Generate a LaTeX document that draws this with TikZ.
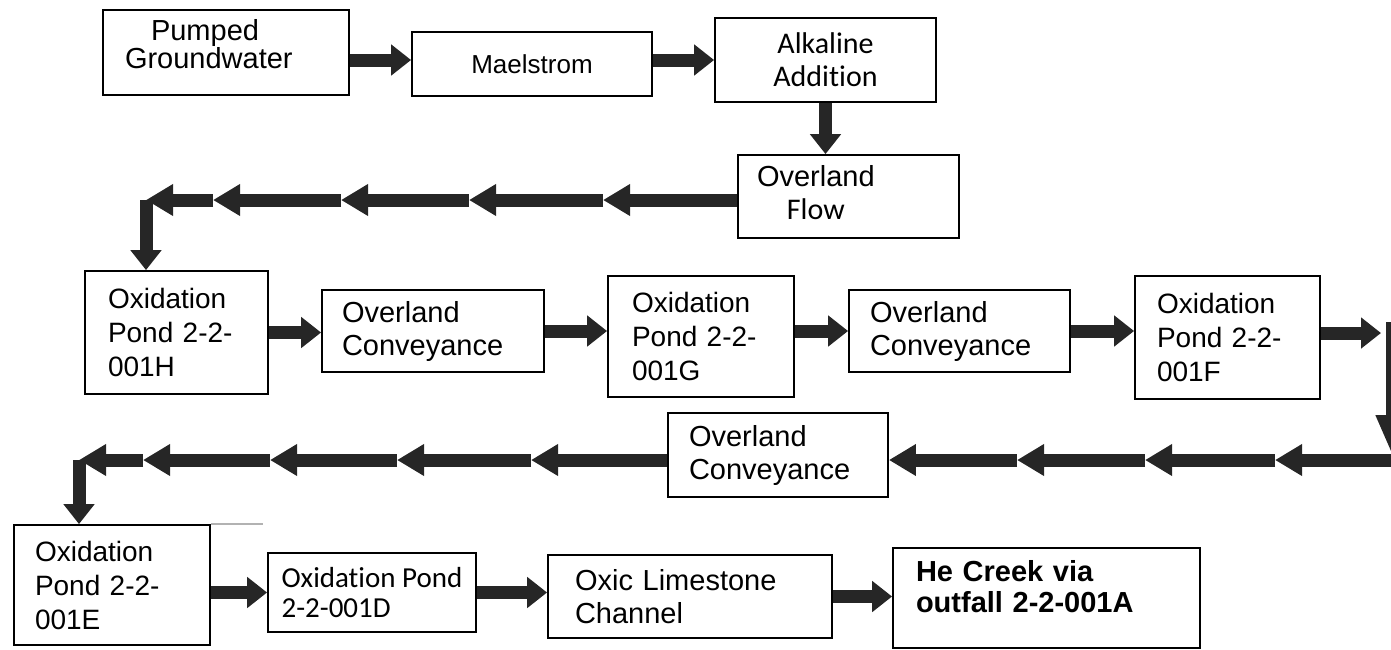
\documentclass[tikz,border=0pt]{standalone}
\usepackage{fontspec}
\setmainfont{Liberation Sans}
\newfontfamily\calib[Ligatures=NoCommon]{Carlito}
\usetikzlibrary{arrows.meta}

\begin{document}
\begin{tikzpicture}[x=1pt,y=-1pt,
    box/.style={draw,line width=1.8pt,inner sep=0pt,font=\fontsize{29}{33}\selectfont},
    pond/.style={box,font=\fontsize{28}{34}\selectfont},
    flowarr/.style={draw=black!85,line width=13pt,-{Triangle[length=20pt,width=30pt]}},
    longarr/.style={flowarr,-{Triangle[length=27pt,width=30pt]}}]
  \useasboundingbox (0,0) rectangle (1391,649);
  % boxes
  \node[box,align=left,inner xsep=22pt,text width=202pt,minimum height=85pt,
        font=\fontsize{29}{28}\selectfont] (pumped) at (226,52.5) {\hspace*{26pt}Pumped\\Groundwater\\[-10pt]\mbox{}};
  \node[box,minimum width=240pt,minimum height=64pt,font=\fontsize{26}{30}\selectfont] (mael) at (532,64) {Maelstrom};
  \node[box,align=center,minimum width=221pt,minimum height=84pt,
        font=\calib\fontsize{30}{33}\selectfont] (alk) at (825.5,60) {Alkaline\\Addition};
  \node[box,align=left,inner xsep=19pt,text width=183pt,minimum height=83pt] (flow) at (848.5,196.5)
    {\begin{tabular}{@{}c@{}}Overland\\{\calib\fontsize{30}{33}\selectfont Flow}\end{tabular}};
  \node[pond,align=left,inner xsep=23pt,text width=137pt,minimum height=123pt] (oxH) at (176.5,332.5) {Oxidation\\Pond 2-2-\\001H};
  \node[box,align=left,inner xsep=20pt,text width=182pt,minimum height=82pt] (conv1) at (433,331) {Overland\\Conveyance};
  \node[pond,align=left,inner xsep=24pt,text width=138pt,minimum height=121pt] (oxG) at (701,336.5) {Oxidation\\Pond 2-2-\\001G};
  \node[box,align=left,inner xsep=21pt,text width=179pt,minimum height=82pt] (conv2) at (959.5,331) {Overland\\Conveyance};
  \node[pond,align=left,inner xsep=22pt,text width=141pt,minimum height=123pt] (oxF) at (1227.5,337.5) {Oxidation\\Pond 2-2-\\001F};
  \node[box,align=left,inner xsep=21pt,text width=178pt,minimum height=84pt] (conv3) at (778,455) {Overland\\Conveyance};
  \node[pond,align=left,inner xsep=21pt,text width=154pt,minimum height=120pt] (oxE) at (112,585) {Oxidation\\Pond 2-2-\\001E};
  \node[box,align=left,inner xsep=10pt,minimum width=208pt,minimum height=79pt,
        font=\calib\fontsize{29}{30}\selectfont] (oxD) at (372,592.5) {Oxidation Pond\\2-2-001D};
  \node[box,align=left,inner xsep=27pt,text width=230pt,minimum height=83pt] (oxic) at (690,596.5) {Oxic Limestone\\Channel};
  \node[box,align=left,inner xsep=23pt,text width=261pt,minimum height=100pt,
        font=\bfseries\fontsize{29}{31}\selectfont] (creek) at (1046.5,598) {He Creek via\\outfall 2-2-001A\\[-8pt]\mbox{}};
  \draw[gray!60,line width=1.5pt] (oxE.north east) -- ++(52,0);

  % turning points of the long runs
  \coordinate (t1) at (603,200);
  \coordinate (t2) at (469,200);
  \coordinate (t3) at (341,200);
  \coordinate (t4) at (213,200);
  \coordinate (t5) at (146,200);
  \coordinate (r1) at (1381,333);
  \coordinate (r2) at (1392,322);
  \coordinate (r3) at (1392,455);
  \coordinate (s0) at (1400,460);
  \coordinate (s1) at (1275,460);
  \coordinate (s2) at (1145,460);
  \coordinate (s3) at (1017,460);
  \coordinate (u1) at (531,460);
  \coordinate (u2) at (397,460);
  \coordinate (u3) at (270,460);
  \coordinate (u4) at (143,460);
  \coordinate (u5) at (79,460);

  % flow
  \draw[flowarr] (pumped.east |- alk) -- (mael.west |- alk);
  \draw[flowarr] (mael.east |- alk) -- (alk.west);
  \draw[flowarr] (alk.south) -- (alk.south |- flow.north);
  \draw[longarr] (flow.west |- t1) -- (t1);
  \draw[longarr] (t1) -- (t2);
  \draw[longarr] (t2) -- (t3);
  \draw[longarr] (t3) -- (t4);
  \draw[longarr] (t4) -- (t5);
  \draw[flowarr] (t5) -- (t5 |- oxH.north);
  \draw[flowarr] (oxH.east) -- (oxH.east -| conv1.west);
  \draw[flowarr] (conv1.east) -- (conv1.east -| oxG.west);
  \draw[flowarr] (conv2.west -| oxG.east) -- (conv2.west);
  \draw[flowarr] (conv2.east) -- (conv2.east -| oxF.west);
  \draw[flowarr] (oxF.east |- r1) -- (r1);
  \draw[flowarr,-{Triangle[length=40pt,width=30pt]}] (r2) -- (r3);
  \draw[longarr] (s0) -- (s1);
  \draw[longarr] (s1) -- (s2);
  \draw[longarr] (s2) -- (s3);
  \draw[longarr] (s3) -- (conv3.east |- s3);
  \draw[longarr] (conv3.west |- u1) -- (u1);
  \draw[longarr] (u1) -- (u2);
  \draw[longarr] (u2) -- (u3);
  \draw[longarr] (u3) -- (u4);
  \draw[longarr] (u4) -- (u5);
  \draw[flowarr] (u5) -- (u5 |- oxE.north);
  \draw[flowarr] (oxE.east |- oxD) -- (oxD.west);
  \draw[flowarr] (oxD.east) -- (oxD.east -| oxic.west);
  \draw[flowarr] (oxic.east) -- (oxic.east -| creek.west);
\end{tikzpicture}
\end{document}
